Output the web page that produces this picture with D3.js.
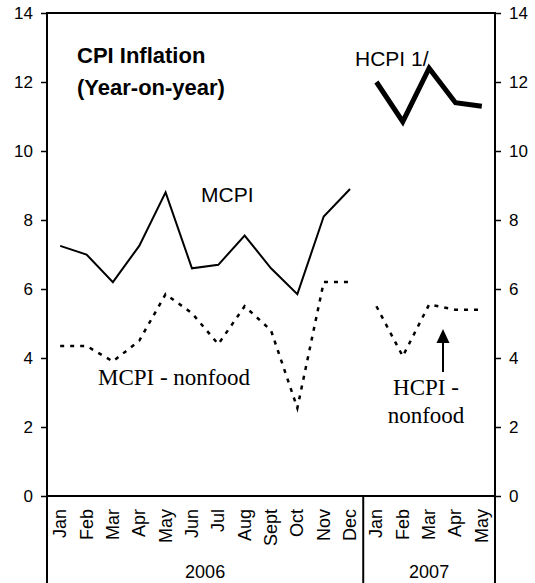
<!DOCTYPE html>
<html>
<head>
<meta charset="utf-8">
<script src="https://cdn.jsdelivr.net/npm/d3@7"></script>
<style>
  body { margin: 0; background: #fff; }
  text { font-family: Arial, "Liberation Sans", sans-serif; }
  .serif { font-family: "Times New Roman", "Liberation Serif", serif; }
</style>
</head>
<body>
<div id="my_dataviz"></div>
<script>
// months and years
var months = ["Jan", "Feb", "Mar", "Apr", "May", "Jun", "Jul", "Aug", "Sept", "Oct", "Nov", "Dec",
  "Jan", "Feb", "Mar", "Apr", "May"]
var years = ["2006", "2007"]

// series (percent, y-o-y)
var mcpi = [7.25, 7.0, 6.2, 7.25, 8.8, 6.6, 6.7, 7.55, 6.6, 5.85, 8.1, 8.9]
var mcpiNonfood = [4.35, 4.35, 3.9, 4.5, 5.85, 5.3, 4.4, 5.5, 4.8, 2.55, 6.2, 6.2]
var hcpi = [12.0, 10.85, 12.4, 11.4, 11.3]
var hcpiNonfood = [5.5, 4.05, 5.55, 5.4, 5.4]
var yTicks = [0, 2, 4, 6, 8, 10, 12, 14]

var margin = { top: 13, right: 40, bottom: 87, left: 47 },
  width = 535 - margin.left - margin.right,
  height = 583 - margin.top - margin.bottom;

var svg = d3.select("#my_dataviz")
  .append("svg")
  .attr("width", 535)
  .attr("height", 583)
  .append("g")
  .attr("transform", "translate(" + margin.left + "," + margin.top + ")");

var x = d3.scaleBand()
  .domain(d3.range(months.length))
  .range([0, width])
  .padding(0);

var y = d3.scaleLinear()
  .domain([0, 14])
  .range([height, 0]);

function cx(i) { return x(i) + x.bandwidth() / 2 }

// y axes on both sides
svg.append("g")
  .call(d3.axisLeft(y).tickValues(yTicks).tickSize(6).tickPadding(8))
  .call(function(g) { g.select(".domain").remove() })
  .selectAll("text").style("font-size", "17px").attr("fill", "#000");
svg.append("g")
  .attr("transform", "translate(" + width + ",0)")
  .call(d3.axisRight(y).tickValues(yTicks).tickSize(6).tickPadding(8))
  .call(function(g) { g.select(".domain").remove() })
  .selectAll("text").style("font-size", "17px").attr("fill", "#000");
svg.selectAll(".tick line").attr("stroke", "#000").attr("stroke-width", 1.5);

// box
svg.append("rect")
  .attr("x", 0).attr("y", 0)
  .attr("width", width).attr("height", height)
  .attr("fill", "none").attr("stroke", "#000").attr("stroke-width", 2);

// year separators below the axis
var bounds = [0, 12, 17];
svg.selectAll(".sep")
  .data(bounds)
  .enter().append("line")
  .attr("x1", function(d) { return d < 17 ? x(d) : width })
  .attr("x2", function(d) { return d < 17 ? x(d) : width })
  .attr("y1", height).attr("y2", 583 - margin.top)
  .attr("stroke", "#000").attr("stroke-width", 2);

// month labels
svg.selectAll(".month")
  .data(months)
  .enter().append("text")
  .attr("transform", function(d, i) {
    return "translate(" + (cx(i) + 6) + "," + (height + 13) + ") rotate(-90)"
  })
  .attr("text-anchor", "end")
  .style("font-size", "18px")
  .text(function(d) { return d });

// year labels
svg.selectAll(".year")
  .data(years)
  .enter().append("text")
  .attr("x", function(d, i) {
    var a = bounds[i], b = bounds[i + 1];
    return ((b < 17 ? x(b) : width) + x(a)) / 2
  })
  .attr("y", 578 - margin.top)
  .attr("text-anchor", "middle")
  .style("font-size", "18px")
  .text(function(d) { return d });

// lines
var line2006 = d3.line()
  .x(function(d, i) { return cx(i) })
  .y(function(d) { return y(d) });
var line2007 = d3.line()
  .x(function(d, i) { return cx(i + 12) })
  .y(function(d) { return y(d) });

svg.append("path").datum(mcpi)
  .attr("d", line2006).attr("fill", "none")
  .attr("stroke", "#000").attr("stroke-width", 2);
svg.append("path").datum(mcpiNonfood)
  .attr("d", line2006).attr("fill", "none")
  .attr("stroke", "#000").attr("stroke-width", 2.5)
  .attr("stroke-dasharray", "4,6");
svg.append("path").datum(hcpi)
  .attr("d", line2007).attr("fill", "none")
  .attr("stroke", "#000").attr("stroke-width", 5);
svg.append("path").datum(hcpiNonfood)
  .attr("d", line2007).attr("fill", "none")
  .attr("stroke", "#000").attr("stroke-width", 2.5)
  .attr("stroke-dasharray", "4,6");

// annotations
svg.append("text").attr("x", 77 - margin.left).attr("y", 63 - margin.top)
  .style("font-size", "22px").style("font-weight", "bold").text("CPI Inflation");
svg.append("text").attr("x", 77 - margin.left).attr("y", 95 - margin.top)
  .style("font-size", "22px").style("font-weight", "bold").text("(Year-on-year)");
svg.append("text").attr("x", 201 - margin.left).attr("y", 202 - margin.top)
  .style("font-size", "21px").text("MCPI");
svg.append("text").attr("x", 355 - margin.left).attr("y", 66 - margin.top)
  .style("font-size", "21px").text("HCPI 1/");
svg.append("text").attr("class", "serif")
  .attr("x", 174 - margin.left).attr("y", 385 - margin.top)
  .attr("text-anchor", "middle")
  .style("font-size", "23px").text("MCPI - nonfood");
svg.append("text").attr("class", "serif")
  .attr("x", 426 - margin.left).attr("y", 395 - margin.top)
  .attr("text-anchor", "middle")
  .style("font-size", "23px").text("HCPI -");
svg.append("text").attr("class", "serif")
  .attr("x", 426 - margin.left).attr("y", 423 - margin.top)
  .attr("text-anchor", "middle")
  .style("font-size", "23px").text("nonfood");

// arrow pointing at HCPI nonfood
var ax = 443 - margin.left;
svg.append("line")
  .attr("x1", ax).attr("x2", ax)
  .attr("y1", 372 - margin.top).attr("y2", 340 - margin.top)
  .attr("stroke", "#000").attr("stroke-width", 2);
svg.append("path")
  .attr("d", "M" + ax + "," + (329 - margin.top) + " L" + (ax - 6.5) + "," + (343 - margin.top) +
    " L" + (ax + 6.5) + "," + (343 - margin.top) + " Z")
  .attr("fill", "#000");
</script>
</body>
</html>
